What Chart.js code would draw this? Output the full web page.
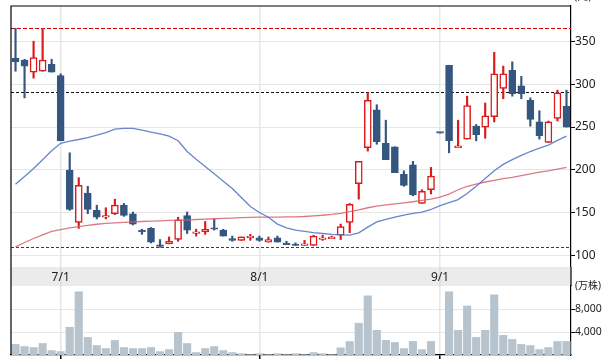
<!DOCTYPE html>
<html>
<head>
<meta charset="utf-8">
<script src="https://cdn.jsdelivr.net/npm/chart.js@4.4.1/dist/chart.umd.min.js"></script>
<style>
html, body { margin: 0; padding: 0; background: #fff; }
#wrap { position: relative; width: 606px; height: 361px; overflow: hidden; background: #fff; }
#precio { position: absolute; left: 0; top: 0; }
#volumen { position: absolute; left: 0; top: 267px; }
</style>
</head>
<body>
<div id="wrap">
  <canvas id="precio" width="606" height="267"></canvas>
  <canvas id="volumen" width="606" height="94"></canvas>
</div>
<script>
// Fechas (días hábiles) y marcas de mes
const fechas = ['6/24','6/25','6/26','6/27','6/30',
  '7/1','7/2','7/3','7/4','7/7','7/8','7/9','7/10','7/11','7/14','7/15','7/16','7/17','7/18',
  '7/22','7/23','7/24','7/25','7/28','7/29','7/30','7/31',
  '8/1','8/4','8/5','8/6','8/7','8/8','8/12','8/13','8/14','8/15','8/18','8/19','8/20','8/21','8/22',
  '8/25','8/26','8/27','8/28','8/29',
  '9/1','9/2','9/3','9/4','9/5','9/8','9/9','9/10','9/11','9/12','9/16','9/17','9/18','9/19','9/22'];
const marcasMes = ['7/1', '8/1', '9/1'];

// Velas
const apertura = [330,328,314,315,323,310,200,139,173,153,145,149,159,149,130,132,112,114,119,147,126,128,132,130,120,118,121,121,116,121,115,113,112,112,119,120,124,139,184,226,270,231,227,195,206,161,177,243,322,226,236,251,250,262,295,316,298,281,256,232,260,274];
const maximo   = [365,329,350,365,329,312,220,191,181,159,156,166,161,151,131,133,119,122,145,151,131,140,143,131,123,122,125,123,122,123,117,115,118,124,124,123,137,161,210,290,276,258,227,199,210,177,203,243,322,258,286,253,278,337,321,326,309,284,269,257,293,293];
const minimo   = [315,284,307,315,314,234,153,132,149,143,143,148,146,136,125,115,110,114,117,126,123,125,130,123,117,118,118,117,116,116,113,112,112,112,118,120,119,127,166,222,230,212,197,181,170,161,172,243,220,226,236,234,237,256,283,286,283,251,236,232,257,250];
const cierre   = [326,321,331,328,314,234,154,182,154,145,147,159,147,137,128,116,111,117,142,130,128,131,131,123,118,122,123,118,119,116,113,112,114,123,121,122,134,160,210,281,233,212,197,182,171,175,193,243,234,228,275,241,263,312,312,289,289,259,240,256,290,250];

// Medias móviles
const media25 = [183.5,192.5,201.8,212,222.5,231,233.5,235.5,237.8,240.5,243.5,247.5,248.5,248.5,246.5,244,242,239.5,234,221.5,212.5,204,195.5,187,178.5,168,157.5,150.5,145,137,132.5,130,128.5,127,126,125,124.5,124.2,126.8,133.5,139.5,142.5,145,147.5,149.5,151,154,158.5,162,165.5,172.5,181,190,199,206.5,212,217,221.5,225.5,229,234.5,239.5];
const media75 = [110.5,115.5,120.2,124.5,128.5,130.5,132.5,134,135.5,136.8,137.8,138.3,139,139.5,140,140.5,140.8,141.2,141.6,142,142.3,142.8,143.2,143.6,144,144.4,144.8,145,145.1,145.2,145.3,145.4,145.8,146.5,147.3,148.2,149.5,151.5,153.5,156,158,159.3,160.5,161.8,163,164.5,166,168.5,172,177,180.8,183.5,186,188,190,191.5,193.5,195.5,197.5,199,201,203];

// Volumen (万株)
const volumen = [1900,1530,1360,2060,830,650,4880,11050,3120,1710,1180,2590,1360,1180,1180,1360,650,1000,4000,2060,480,1180,1530,830,480,300,120,300,120,300,120,300,120,480,300,120,1300,2410,5590,10340,4350,2590,2240,1180,2410,1000,2410,0,11050,4350,8580,3120,4350,10520,3470,2770,1890,1710,1000,1360,2410,2410];

// Ejes y líneas de nivel
const ticksPrecio = [100, 150, 200, 250, 300, 350];
const ticksVolumen = [4000, 8000, 12000];
const lineasNivel = [365, 290.5, 110];

const AZUL = '#34567f';
const ROJO = '#dc1a1a';
const estilosNivel = [
    { color: '#d40000', dash: [4, 2] },
    { color: '#111111', dash: [3, 2] },
    { color: '#2b3d66', dash: [3, 2] }
];
const FUENTE = "'Noto Sans', 'Noto Sans CJK JP', sans-serif";

const sube = i => cierre[i] > apertura[i];
const esMes = i => marcasMes.includes(fechas[i]);

// el eje vertical no debe empujar el área del gráfico
const ajustarEjeY = s => { s.width = 35; s.paddingTop = 0; s.paddingBottom = 0; };

// Líneas discontinuas y bordes del panel de precios
const pluginPrecio = {
    id: 'pluginPrecio',
    beforeDatasetsDraw(chart) {
        const { ctx, chartArea: a, scales: { y } } = chart;
        ctx.save();
        lineasNivel.forEach((v, k) => {
            const py = Math.round(y.getPixelForValue(v)) + 0.5;
            ctx.strokeStyle = estilosNivel[k].color;
            ctx.setLineDash(estilosNivel[k].dash);
            ctx.lineWidth = 1;
            ctx.beginPath();
            ctx.moveTo(a.left, py);
            ctx.lineTo(a.right, py);
            ctx.stroke();
        });
        ctx.restore();
    },
    afterDraw(chart) {
        const { ctx, chartArea: a } = chart;
        ctx.save();
        ctx.strokeStyle = '#000';
        ctx.lineWidth = 1.2;
        ctx.beginPath();
        ctx.moveTo(a.left, a.bottom);
        ctx.lineTo(a.left, a.top);
        ctx.lineTo(a.right, a.top);
        ctx.stroke();
        ctx.fillStyle = '#222';
        ctx.font = '11px ' + FUENTE;
        ctx.textBaseline = 'bottom';
        ctx.fillText('(円)', a.right + 3, 2);
        ctx.restore();
    }
};

// Franja de fechas sobre el volumen
const pluginFranja = {
    id: 'pluginFranja',
    beforeDraw(chart) {
        const { ctx, chartArea: a, scales: { x } } = chart;
        ctx.save();
        ctx.fillStyle = '#ebebeb';
        ctx.fillRect(a.left, 0, a.right - a.left, a.top);
        ctx.font = '12px ' + FUENTE;
        ctx.textAlign = 'center';
        ctx.textBaseline = 'middle';
        fechas.forEach((f, i) => {
            if (!esMes(i)) return;
            const px = x.getPixelForValue(i);
            ctx.fillStyle = '#dadada';
            ctx.fillRect(px - 0.75, 0, 1.5, a.top);
            ctx.fillStyle = '#222';
            ctx.fillText(f, px, a.top / 2 + 1);
        });
        ctx.restore();
    },
    afterDraw(chart) {
        const { ctx, chartArea: a } = chart;
        ctx.save();
        ctx.strokeStyle = '#000';
        ctx.lineWidth = 1.2;
        ctx.beginPath();
        ctx.moveTo(a.left, 0);
        ctx.lineTo(a.left, a.bottom);
        ctx.moveTo(a.right, 0);
        ctx.lineTo(a.right, a.top);
        ctx.stroke();
        ctx.restore();
    }
};

const gridMes = c => esMes(c.tick.value) ? '#e6e6e6' : 'rgba(0,0,0,0)';

new Chart(document.getElementById('precio'), {
    data: {
        labels: fechas,
        datasets: [
            {
                type: 'line', label: 'MA25', data: media25,
                borderColor: 'rgba(88,120,200,0.9)', borderWidth: 1.3,
                pointRadius: 0, tension: 0, order: 0
            },
            {
                type: 'line', label: 'MA75', data: media75,
                borderColor: 'rgba(214,98,112,0.85)', borderWidth: 1.3,
                pointRadius: 0, tension: 0, order: 0
            },
            {
                type: 'bar', label: 'cuerpo',
                data: apertura.map((o, i) => [o, cierre[i]]),
                backgroundColor: c => sube(c.dataIndex) ? '#fff' : AZUL,
                borderColor: c => sube(c.dataIndex) ? ROJO : AZUL,
                borderWidth: 1.5, borderSkipped: false,
                barThickness: 7, minBarLength: 1.5,
                grouped: false, order: 1
            },
            {
                type: 'bar', label: 'mecha',
                data: minimo.map((l, i) => [l, maximo[i]]),
                backgroundColor: c => sube(c.dataIndex) ? ROJO : AZUL,
                borderWidth: 0, barThickness: 1.5,
                grouped: false, order: 2
            }
        ]
    },
    options: {
        responsive: false,
        animation: false,
        layout: { padding: { left: 11, top: 6, right: 0, bottom: 0 } },
        plugins: { legend: { display: false }, tooltip: { enabled: false } },
        scales: {
            x: {
                type: 'category', offset: true,
                grid: { offset: false, color: gridMes, lineWidth: 1.5, drawTicks: false },
                ticks: { display: false, autoSkip: false },
                border: { display: false },
                afterFit: s => { s.height = 0; }
            },
            y: {
                position: 'right', min: 87, max: 391,
                afterBuildTicks: s => { s.ticks = ticksPrecio.map(v => ({ value: v })); },
                afterFit: ajustarEjeY,
                grid: { color: '#e6e6e6', tickColor: '#000', tickLength: 4 },
                border: { color: '#000', width: 1.2 },
                ticks: { color: '#222', padding: 0, font: { size: 12, family: FUENTE } }
            }
        }
    },
    plugins: [pluginPrecio]
});

new Chart(document.getElementById('volumen'), {
    type: 'bar',
    data: {
        labels: fechas,
        datasets: [{
            label: '出来高', data: volumen,
            backgroundColor: '#b8c4cd',
            barPercentage: 0.9, categoryPercentage: 1.0
        }]
    },
    options: {
        responsive: false,
        animation: false,
        layout: { padding: { left: 11, top: 19, right: 0, bottom: 0 } },
        plugins: { legend: { display: false }, tooltip: { enabled: false } },
        scales: {
            x: {
                offset: true,
                grid: {
                    offset: false, color: gridMes, lineWidth: 1.5,
                    tickColor: c => esMes(c.tick.value) ? '#000' : 'rgba(0,0,0,0)', tickLength: 4
                },
                ticks: { display: false, autoSkip: false },
                border: { color: '#000', width: 1.2 },
                afterFit: s => { s.height = 6; }
            },
            y: {
                position: 'right', min: 0, max: 12000,
                afterBuildTicks: s => { s.ticks = ticksVolumen.map(v => ({ value: v })); },
                afterFit: ajustarEjeY,
                grid: {
                    color: c => c.tick.value === 12000 ? 'rgba(0,0,0,0)' : '#e6e6e6',
                    tickColor: c => c.tick.value === 12000 ? 'rgba(0,0,0,0)' : '#000',
                    tickLength: 4
                },
                border: { color: '#000', width: 1.2 },
                ticks: {
                    color: '#222', padding: 0,
                    font: c => ({ size: c.tick && c.tick.value === 12000 ? 10 : 10.5, family: FUENTE }),
                    callback: v => v === 12000 ? '(万株)' : v.toLocaleString('en-US')
                }
            }
        }
    },
    plugins: [pluginFranja]
});
</script>
</body>
</html>
